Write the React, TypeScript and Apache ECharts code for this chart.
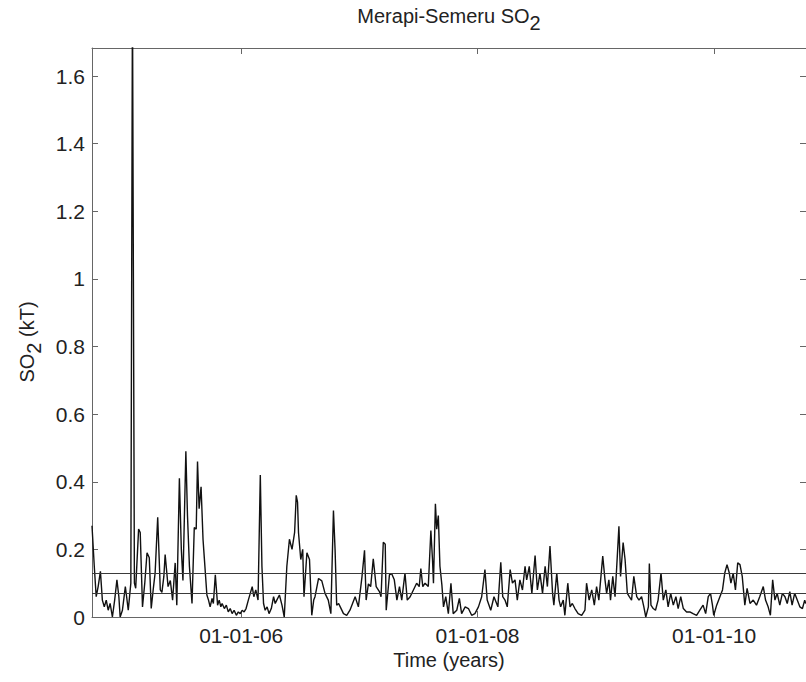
import React, { useEffect, useRef } from "react";
import * as echarts from "echarts";

// Time origin of the record (first OMI reading) and last day shown
const START_DATE = "2004-09-27";
const LAST_DAY = 2206;

// [days since START_DATE, SO2 in kT]
const so2Readings: [number, number][] = [
  [0, 0.27], [7, 0.15], [13, 0.06], [19, 0.09], [26, 0.135], [32, 0.05], [38, 0.03], [44, 0.05],
  [50, 0.02], [56, 0.04], [63, 0.0], [70, 0.05], [77, 0.11], [83, 0.06], [87, 0.0], [94, 0.02],
  [103, 0.09], [107, 0.06], [112, 0.02], [120, 0.1], [125, 1.85], [131, 0.1], [135, 0.085],
  [144, 0.26], [149, 0.25], [156, 0.03], [163, 0.1], [170, 0.19], [177, 0.175], [183, 0.025],
  [189, 0.08], [195, 0.13], [203, 0.295], [211, 0.08], [216, 0.073], [222, 0.12], [226, 0.185],
  [235, 0.09], [242, 0.108], [249, 0.05], [257, 0.16], [262, 0.035], [270, 0.41], [276, 0.2],
  [281, 0.108], [290, 0.49], [295, 0.3], [301, 0.15], [309, 0.04], [316, 0.265], [322, 0.26],
  [326, 0.46], [331, 0.32], [337, 0.385], [343, 0.23], [347, 0.175], [355, 0.065], [360, 0.05],
  [365, 0.03], [371, 0.055], [375, 0.04], [381, 0.125], [388, 0.035], [393, 0.05], [398, 0.03],
  [402, 0.04], [409, 0.025], [415, 0.035], [421, 0.015], [427, 0.025], [433, 0.01], [439, 0.02],
  [446, 0.005], [452, 0.015], [458, 0.01], [464, 0.02], [470, 0.015], [476, 0.025], [483, 0.05],
  [489, 0.07], [495, 0.09], [500, 0.06], [506, 0.08], [513, 0.05], [520, 0.42], [525, 0.15],
  [530, 0.04], [535, 0.02], [541, 0.03], [547, 0.01], [554, 0.025], [561, 0.06], [566, 0.04],
  [571, 0.05], [579, 0.065], [587, 0.035], [594, 0.0], [602, 0.15], [610, 0.23], [618, 0.2],
  [626, 0.25], [631, 0.36], [635, 0.34], [638, 0.25], [645, 0.17], [651, 0.2], [655, 0.06],
  [664, 0.19], [672, 0.17], [679, 0.005], [685, 0.05], [689, 0.06], [700, 0.114], [710, 0.107],
  [720, 0.07], [730, 0.05], [738, 0.01], [746, 0.315], [751, 0.2], [756, 0.035], [762, 0.04],
  [767, 0.03], [777, 0.01], [787, 0.005], [797, 0.02], [805, 0.04], [813, 0.06], [823, 0.03],
  [834, 0.118], [842, 0.197], [847, 0.05], [854, 0.098], [861, 0.09], [869, 0.172], [878, 0.09],
  [888, 0.075], [893, 0.06], [900, 0.221], [906, 0.215], [909, 0.02], [919, 0.125], [926, 0.128],
  [934, 0.11], [942, 0.05], [950, 0.09], [957, 0.05], [967, 0.13], [974, 0.05], [983, 0.06],
  [993, 0.08], [1003, 0.1], [1011, 0.09], [1016, 0.143], [1022, 0.09], [1029, 0.1], [1039, 0.09],
  [1047, 0.256], [1052, 0.17], [1055, 0.1], [1061, 0.335], [1065, 0.26], [1070, 0.3], [1075, 0.15],
  [1081, 0.095], [1086, 0.03], [1093, 0.06], [1101, 0.01], [1109, 0.1], [1116, 0.01], [1127, 0.02],
  [1135, 0.055], [1142, 0.01], [1153, 0.03], [1163, 0.025], [1173, 0.005], [1183, 0.01],
  [1194, 0.03], [1204, 0.06], [1214, 0.14], [1221, 0.05], [1232, 0.02], [1242, 0.06], [1254, 0.03],
  [1263, 0.162], [1269, 0.06], [1276, 0.05], [1283, 0.03], [1292, 0.14], [1299, 0.1], [1307, 0.11],
  [1314, 0.05], [1322, 0.11], [1330, 0.08], [1338, 0.15], [1343, 0.11], [1351, 0.15], [1359, 0.07],
  [1369, 0.182], [1376, 0.08], [1384, 0.13], [1392, 0.07], [1400, 0.15], [1407, 0.09], [1415, 0.21],
  [1423, 0.07], [1427, 0.035], [1436, 0.13], [1443, 0.05], [1448, 0.03], [1456, 0.05], [1461, 0.005],
  [1470, 0.1], [1477, 0.03], [1484, 0.04], [1492, 0.025], [1502, 0.01], [1513, 0.005], [1523, 0.02],
  [1528, 0.1], [1536, 0.05], [1544, 0.08], [1552, 0.035], [1559, 0.09], [1566, 0.05], [1578, 0.18],
  [1585, 0.11], [1590, 0.07], [1597, 0.11], [1602, 0.05], [1609, 0.12], [1616, 0.06], [1623, 0.18],
  [1628, 0.268], [1633, 0.12], [1641, 0.22], [1647, 0.17], [1654, 0.07], [1660, 0.06], [1667, 0.05],
  [1674, 0.12], [1683, 0.06], [1690, 0.05], [1698, 0.06], [1705, 0.03], [1711, 0.0], [1719, 0.03],
  [1722, 0.158], [1727, 0.035], [1734, 0.025], [1741, 0.02], [1749, 0.05], [1758, 0.13], [1765, 0.05],
  [1773, 0.08], [1780, 0.03], [1788, 0.07], [1796, 0.035], [1804, 0.06], [1811, 0.025], [1819, 0.06],
  [1827, 0.025], [1837, 0.015], [1847, 0.015], [1857, 0.01], [1868, 0.005], [1878, 0.02],
  [1888, 0.035], [1896, 0.01], [1904, 0.06], [1911, 0.07], [1917, 0.035], [1921, 0.005],
  [1930, 0.035], [1940, 0.06], [1948, 0.08], [1955, 0.13], [1962, 0.155], [1969, 0.13], [1974, 0.1],
  [1981, 0.13], [1988, 0.08], [1995, 0.16], [2002, 0.155], [2009, 0.12], [2017, 0.035], [2024, 0.085],
  [2033, 0.04], [2043, 0.05], [2053, 0.035], [2063, 0.06], [2074, 0.09], [2081, 0.05], [2089, 0.03],
  [2096, 0.005], [2103, 0.11], [2110, 0.05], [2117, 0.07], [2125, 0.035], [2133, 0.07], [2141, 0.06],
  [2148, 0.04], [2156, 0.075], [2163, 0.035], [2171, 0.07], [2179, 0.05], [2187, 0.03], [2195, 0.025],
  [2202, 0.05], [2205, 0.04],
];

// Horizontal reference levels (mean and mean + 1 sigma)
const referenceLevels = [0.1325, 0.0716];

// x tick dates and their labels
const xTickDates = ["2006-01-01", "2008-01-01", "2010-01-01"];
const xTickLabels = ["01-01-06", "01-01-08", "01-01-10"];

const Y_MAX = 1.683;
const Y_INTERVAL = 0.2;

const DAY_MS = 86400000;
const FONT = "'Liberation Sans', Arial, Helvetica, sans-serif";
const TEXT_COLOR = "#222222";
const AXIS_COLOR = "#666666";

export default function App() {
  const ref = useRef<HTMLDivElement>(null);

  useEffect(() => {
    if (!ref.current) return;
    const chart = echarts.init(ref.current, undefined, { renderer: "svg" });
    const t0 = Date.parse(START_DATE);
    const xMin = t0;
    const xMax = t0 + LAST_DAY * DAY_MS;
    const tickValues = xTickDates.map((d) => Date.parse(d));
    const data = so2Readings.map(([d, v]) => [t0 + d * DAY_MS, v]);

    const axisLine = { show: true, onZero: false, lineStyle: { color: AXIS_COLOR, width: 1 } };
    const tick = { show: true, inside: true, length: 6, lineStyle: { color: AXIS_COLOR, width: 1 } };

    const subRich = {
      a: { fontSize: 20, fontFamily: FONT, fill: TEXT_COLOR, lineHeight: 22, verticalAlign: "top" },
      b: {
        fontSize: 20,
        fontFamily: FONT,
        fill: TEXT_COLOR,
        lineHeight: 22,
        verticalAlign: "top",
        padding: [7, 0, 0, 0],
      },
    };

    chart.setOption({
      animation: false,
      backgroundColor: "#ffffff",
      grid: { left: 92, top: 48, width: 714, height: 569, containLabel: false },
      xAxis: [
        {
          type: "value",
          position: "bottom",
          min: xMin,
          max: xMax,
          axisLine,
          axisTick: { ...tick, customValues: tickValues },
          splitLine: { show: false },
          axisLabel: {
            customValues: tickValues,
            margin: 8,
            fontSize: 21,
            fontFamily: FONT,
            color: TEXT_COLOR,
            formatter: (v: number) => {
              const i = tickValues.indexOf(v);
              return i >= 0 ? xTickLabels[i] : "";
            },
          },
        },
        {
          type: "value",
          position: "top",
          min: xMin,
          max: xMax,
          axisLine,
          axisTick: { ...tick, customValues: tickValues },
          splitLine: { show: false },
          axisLabel: { show: false },
        },
      ],
      yAxis: [
        {
          type: "value",
          position: "left",
          min: 0,
          max: Y_MAX,
          interval: Y_INTERVAL,
          axisLine,
          axisTick: tick,
          splitLine: { show: false },
          axisLabel: {
            margin: 7,
            fontSize: 21,
            fontFamily: FONT,
            color: TEXT_COLOR,
            showMaxLabel: false,
          },
        },
        {
          type: "value",
          position: "right",
          min: 0,
          max: Y_MAX,
          interval: Y_INTERVAL,
          axisLine,
          axisTick: tick,
          splitLine: { show: false },
          axisLabel: { show: false },
        },
      ],
      series: [
        {
          type: "line",
          xAxisIndex: 0,
          yAxisIndex: 0,
          data,
          symbol: "none",
          clip: true,
          lineStyle: { color: "#111111", width: 1.4 },
          markLine: {
            silent: true,
            symbol: ["none", "none"],
            label: { show: false },
            lineStyle: { color: "#3a3a3a", width: 1, type: "solid" },
            data: referenceLevels.map((y) => ({ yAxis: y })),
          },
        },
      ],
      graphic: [
        {
          type: "text",
          x: 449,
          y: 6,
          style: {
            text: "{a|Merapi-Semeru SO}{b|2}",
            rich: subRich,
            align: "center",
            verticalAlign: "top",
          },
        },
        {
          type: "text",
          x: 28,
          y: 342,
          rotation: Math.PI / 2,
          style: {
            text: "{a|SO}{b|2}{a| (kT)}",
            rich: subRich,
            align: "center",
            verticalAlign: "middle",
          },
        },
        {
          type: "text",
          x: 449,
          y: 650,
          style: {
            text: "Time (years)",
            fontSize: 20,
            fontFamily: FONT,
            fill: TEXT_COLOR,
            align: "center",
            verticalAlign: "top",
          },
        },
      ],
    });
    return () => chart.dispose();
  }, []);

  return (
    <div
      ref={ref}
      style={{ position: "absolute", left: 0, top: 0, width: 806, height: 682 }}
    />
  );
}
